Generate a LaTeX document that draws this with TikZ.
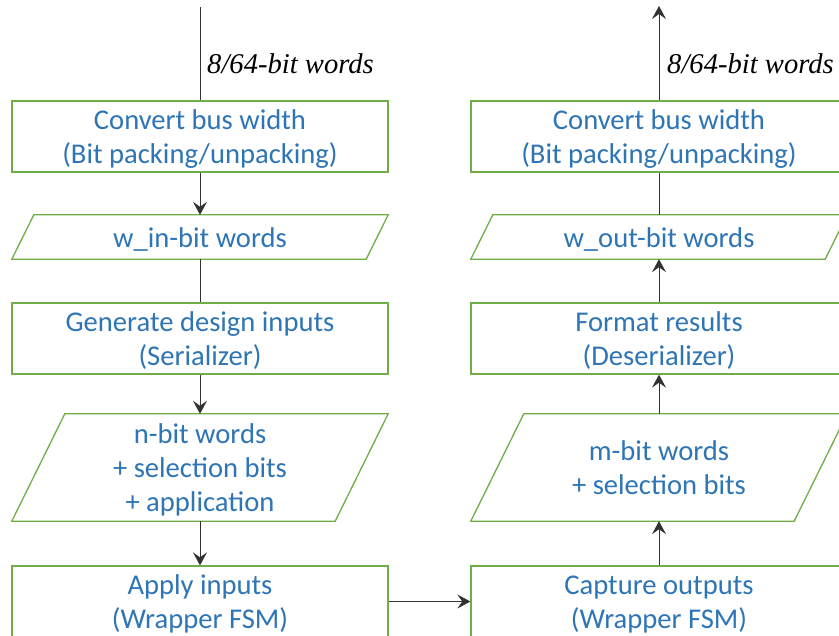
\documentclass[tikz,border=0pt]{standalone}
\usepackage{fontspec}
\setmainfont{Carlito}
\newfontfamily\labfont{Liberation Serif}
\usetikzlibrary{arrows.meta,calc}
\definecolor{boxgreen}{RGB}{112,173,71}
\definecolor{textblue}{RGB}{46,117,182}
\definecolor{linegray}{RGB}{50,50,50}
\newcommand{\fs}{\rule{0pt}{28.5pt}}
\newcommand{\ls}{\rule[-8pt]{0pt}{0pt}}
\tikzset{
  box/.style={draw=boxgreen, line width=1.3pt, fill=white, minimum width=376pt, minimum height=71pt,
    text=textblue, align=center, inner xsep=0pt, inner ysep=-6pt, font=\fontsize{28.6}{34}\selectfont},
  paratext/.style={minimum width=376pt, text=textblue, align=center, inner xsep=0pt, inner ysep=-6pt,
    font=\fontsize{28.6}{34}\selectfont},
  pline/.style={draw=boxgreen, line width=1.3pt},
  conn/.style={draw=linegray, line width=0.9pt},
  arr/.style={conn, -{Stealth[length=13pt,width=14pt,inset=5pt]}},
  lab/.style={anchor=west, inner sep=0pt, font=\labfont\itshape\fontsize{28.6}{32}\selectfont}
}
\begin{document}
\begin{tikzpicture}[x=1pt,y=-1pt]
\clip (0,0) rectangle (839,636);
\fill[white] (0,0) rectangle (839,636);
% left column
\node[box] (b1) at (200,136.5) {\fs Convert bus width\\(Bit packing/unpacking)\ls};
\node[paratext, minimum height=44pt] (p1) at (200,237) {\fs w\_in-bit words\ls};
\node[box] (b2) at (200,338.5) {\fs Generate design inputs\\(Serializer)\ls};
\node[paratext, minimum height=107pt] (p2) at (200,467.5) {\fs n-bit words\\+ selection bits\\+ application\ls};
\node[box] (b3) at (200,601.5) {\fs Apply inputs\\(Wrapper FSM)\ls};
% right column
\node[box] (r1) at (659,136.5) {\fs Convert bus width\\(Bit packing/unpacking)\ls};
\node[paratext, minimum height=44pt] (q1) at (659,237) {\fs w\_out-bit words\ls};
\node[box] (r2) at (659,338.5) {\fs Format results\\(Deserializer)\ls};
\node[paratext, minimum height=107pt] (q2) at (659,467.5) {\fs m-bit words\\+ selection bits\ls};
\node[box] (r3) at (659,601.5) {\fs Capture outputs\\(Wrapper FSM)\ls};
% parallelograms
\draw[pline] (p1.south west) -- ($(p1.north west)+(22,0)$) -- (p1.north east) -- ($(p1.south east)-(22,0)$) -- cycle;
\draw[pline] (p2.south west) -- ($(p2.north west)+(53,0)$) -- (p2.north east) -- ($(p2.south east)-(53,0)$) -- cycle;
\draw[pline] (q1.south west) -- ($(q1.north west)+(22,0)$) -- (q1.north east) -- ($(q1.south east)-(22,0)$) -- cycle;
\draw[pline] (q2.south west) -- ($(q2.north west)+(53,0)$) -- (q2.north east) -- ($(q2.south east)-(53,0)$) -- cycle;
% free ends
\coordinate (inL) at (200,7);
\coordinate (outR) at (659,6);
% labels
\node[lab] (l1) at (207,64) {8/64-bit words};
\node[lab] (l2) at (667,64) {8/64-bit words};
% connectors
\draw[conn] (inL) -- (b1.north);
\draw[arr] (b1.south) -- (p1.north);
\draw[conn] (p1.south) -- (b2.north);
\draw[arr] (b2.south) -- (p2.north);
\draw[arr] (p2.south) -- (b3.north);
\draw[arr] (b3.east) -- (r3.west);
\draw[arr] (r3.north) -- (q2.south);
\draw[arr] (q2.north) -- (r2.south);
\draw[arr] (r2.north) -- (q1.south);
\draw[conn] (q1.north) -- (r1.south);
\draw[arr] (r1.north) -- (outR);
\end{tikzpicture}
\end{document}
